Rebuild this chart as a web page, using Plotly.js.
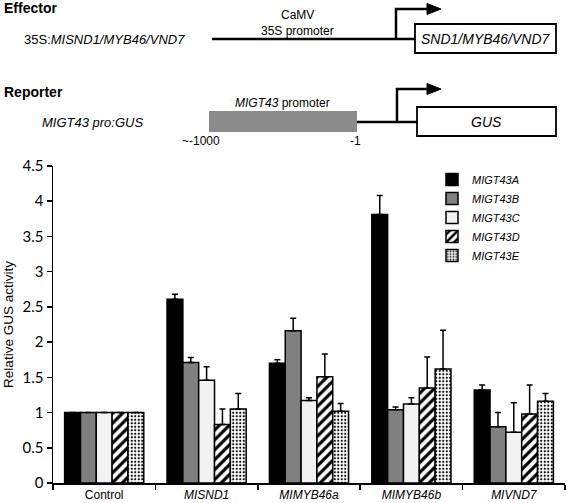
<!DOCTYPE html>
<html>
<head>
<meta charset="utf-8">
<script src="https://cdn.plot.ly/plotly-3.0.1.min.js"></script>
<style>html,body{margin:0;padding:0;background:#fff;}#chart{width:567px;height:503px;}</style>
</head>
<body>
<div id="chart"></div>
<script>
// ---- data ----
var categories = ['Control', '<i>MISND1</i>', '<i>MIMYB46a</i>', '<i>MIMYB46b</i>', '<i>MIVND7</i>'];
var seriesNames = ['MIGT43A', 'MIGT43B', 'MIGT43C', 'MIGT43D', 'MIGT43E'];
var valuesA = [1, 2.61, 1.70, 3.81, 1.32];
var valuesB = [1, 1.71, 2.16, 1.04, 0.80];
var valuesC = [1, 1.46, 1.17, 1.12, 0.72];
var valuesD = [1, 0.83, 1.51, 1.35, 0.98];
var valuesE = [1, 1.05, 1.02, 1.62, 1.16];
var errA = [0, 0.07, 0.05, 0.27, 0.07];
var errB = [0, 0.07, 0.18, 0.04, 0.20];
var errC = [0, 0.19, 0.04, 0.09, 0.42];
var errD = [0, 0.22, 0.32, 0.44, 0.41];
var errE = [0, 0.22, 0.11, 0.55, 0.11];
var yTickVals = [0, 0.5, 1, 1.5, 2, 2.5, 3, 3.5, 4, 4.5];
var yTickText = ['0', '0.5', '1', '1.5', '2', '2.5', '3', '3.5', '4', '4.5'];

// ---- layout geometry (pixels) ----
var W = 567, H = 503;
var L = 53, R = 565, T = 166, B = 483;
function px(x) { return (x - L) / (R - L); }
function py(y) { return (B - y) / (B - T); }

var zeros = [0, 0, 0, 0, 0];
var lineStyle = {color: 'black', width: 1.5};
function errObj(arr) {
  return {type: 'data', symmetric: false, array: arr, arrayminus: zeros,
          color: 'black', thickness: 1.5, width: 3, visible: true};
}

var traces = [
  {name: seriesNames[0], y: valuesA, err: errA,
   marker: {color: '#000000', line: lineStyle}},
  {name: seriesNames[1], y: valuesB, err: errB,
   marker: {color: '#808080', line: lineStyle}},
  {name: seriesNames[2], y: valuesC, err: errC,
   marker: {color: '#f2f2f2', line: lineStyle}},
  {name: seriesNames[3], y: valuesD, err: errD,
   marker: {color: '#ffffff', line: lineStyle,
            pattern: {shape: '/', fgcolor: '#000000', bgcolor: '#ffffff', size: 7, solidity: 0.45, fillmode: 'replace'}}},
  {name: seriesNames[4], y: valuesE, err: errE,
   marker: {color: '#ffffff', line: lineStyle,
            pattern: {shape: '.', fgcolor: '#000000', bgcolor: '#ffffff', size: 3.5, solidity: 0.3, fillmode: 'replace'}}}
].map(function (t) {
  return {
    type: 'bar', x: categories, y: t.y, name: '<i>' + t.name + '</i>',
    marker: t.marker, error_y: errObj(t.err), hoverinfo: 'none'
  };
});

var F = 'Arial, "Liberation Sans", sans-serif';
function ann(text, x, y, opts) {
  var a = {text: text, x: px(x), y: py(y), xref: 'paper', yref: 'paper',
           showarrow: false, xanchor: 'center', yanchor: 'middle',
           font: {family: F, size: 12, color: '#000'}};
  for (var k in opts) a[k] = opts[k];
  return a;
}
function P(x, y) { return px(x).toFixed(5) + ',' + py(y).toFixed(5); }

var annotations = [
  ann('<b>Effector</b>', 2, 8, {xanchor: 'left', font: {family: F, size: 14, color: '#000'}}),
  ann('35S:<i>MISND1/MYB46/VND7</i>', 22, 39, {xanchor: 'left', font: {family: F, size: 13, color: '#000'}}),
  ann('CaMV', 297, 15, {}),
  ann('35S promoter', 297, 31, {}),
  ann('<i>SND1/MYB46/VND7</i>', 486, 39, {font: {family: F, size: 14, color: '#000'}}),
  ann('<b>Reporter</b>', 2, 92, {xanchor: 'left', font: {family: F, size: 14, color: '#000'}}),
  ann('<i>MIGT43 pro:GUS</i>', 40, 122, {xanchor: 'left', font: {family: F, size: 13, color: '#000'}}),
  ann('<i>MIGT43</i> promoter', 282, 103, {}),
  ann('<i>GUS</i>', 486, 122, {font: {family: F, size: 14, color: '#000'}}),
  ann('~-1000', 201, 141, {}),
  ann('-1', 355, 141, {})
];

var shp = function (o) { o.xref = 'paper'; o.yref = 'paper'; o.layer = 'above'; return o; };
var shapes = [
  // effector
  shp({type: 'line', x0: px(212), x1: px(415), y0: py(39), y1: py(39), line: {color: '#000', width: 2.5}}),
  shp({type: 'path', path: 'M' + P(396, 39) + 'L' + P(396, 9) + 'L' + P(428, 9), line: {color: '#000', width: 2.5}}),
  shp({type: 'path', path: 'M' + P(427, 3.5) + 'L' + P(441, 9) + 'L' + P(427, 14.5) + 'Z', fillcolor: '#000', line: {color: '#000', width: 1}}),
  shp({type: 'rect', x0: px(415), x1: px(556), y0: py(24), y1: py(53), line: {color: '#000', width: 1.8}, fillcolor: 'rgba(0,0,0,0)'}),
  // reporter
  shp({type: 'rect', x0: px(209), x1: px(357), y0: py(111), y1: py(132), line: {width: 0}, fillcolor: '#8c8c8c'}),
  shp({type: 'line', x0: px(357), x1: px(417), y0: py(122), y1: py(122), line: {color: '#000', width: 2.5}}),
  shp({type: 'path', path: 'M' + P(397, 122) + 'L' + P(397, 89) + 'L' + P(428, 89), line: {color: '#000', width: 2.5}}),
  shp({type: 'path', path: 'M' + P(427, 83.5) + 'L' + P(441, 89) + 'L' + P(427, 94.5) + 'Z', fillcolor: '#000', line: {color: '#000', width: 1}}),
  shp({type: 'rect', x0: px(417), x1: px(556), y0: py(107), y1: py(136), line: {color: '#000', width: 1.8}, fillcolor: 'rgba(0,0,0,0)'})
];

var layout = {
  width: W, height: H,
  margin: {l: L, r: W - R, t: T, b: H - B, pad: 0},
  paper_bgcolor: '#fff', plot_bgcolor: '#fff',
  barmode: 'group', bargap: 0.227, bargroupgap: 0,
  showlegend: true,
  legend: {x: px(432), y: py(165), xanchor: 'left', yanchor: 'top',
           bgcolor: 'rgba(0,0,0,0)', font: {family: F, size: 11, color: '#000'},
           itemwidth: 30, tracegroupgap: 0},
  xaxis: {type: 'category', showline: true, linecolor: '#000', linewidth: 1.5,
          ticks: 'outside', tickson: 'boundaries', ticklen: 5, tickcolor: '#000', tickwidth: 1.5,
          tickfont: {family: F, size: 12, color: '#000'}, showgrid: false, zeroline: false,
          range: [-0.5, 4.5], fixedrange: true},
  yaxis: {range: [0, 4.5], tickvals: yTickVals, ticktext: yTickText,
          showline: true, linecolor: '#000', linewidth: 1.5,
          ticks: 'outside', ticklen: 5, tickcolor: '#000', tickwidth: 1.5,
          tickfont: {family: 'Lato, "Open Sans", sans-serif', size: 15, color: '#000'},
          showgrid: false, zeroline: false,
          title: {text: 'Relative GUS activity', font: {family: F, size: 13.5, color: '#000'}, standoff: 6}},
  annotations: annotations,
  shapes: shapes
};

Plotly.newPlot('chart', traces, layout, {displayModeBar: false, staticPlot: true});
</script>
</body>
</html>
